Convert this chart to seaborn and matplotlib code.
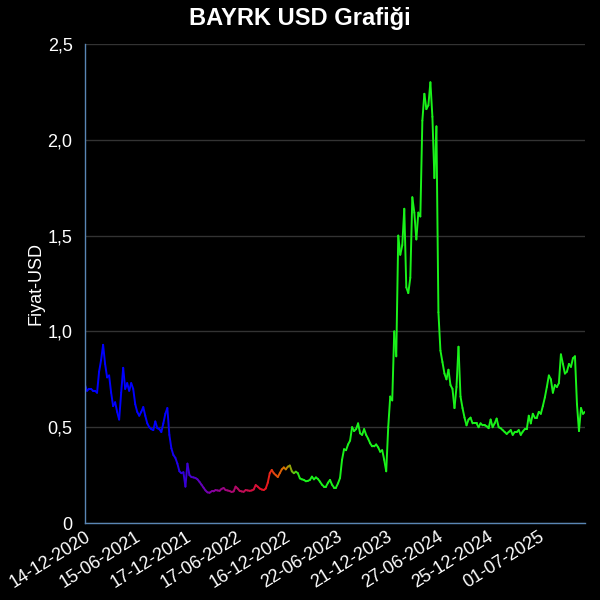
import numpy as np
import pandas as pd
import matplotlib
matplotlib.use("Agg")
import matplotlib.pyplot as plt
import seaborn as sns
from matplotlib.colors import LinearSegmentedColormap

# price readings, evenly spaced in time from first to last date
start_date = "2020-12-14"
end_date = "2025-12-18"
prices = [
    0.72, 0.69, 0.70, 0.70, 0.69, 0.69, 0.68, 0.79, 0.85, 0.93,
    0.83, 0.76, 0.77, 0.68, 0.61, 0.63, 0.58, 0.54, 0.68, 0.81,
    0.70, 0.73, 0.69, 0.73, 0.70, 0.62, 0.58, 0.56, 0.58, 0.605,
    0.56, 0.52, 0.50, 0.49, 0.485, 0.53, 0.495, 0.49, 0.475, 0.52,
    0.57, 0.60, 0.46, 0.39, 0.355, 0.34, 0.31, 0.27, 0.26, 0.265,
    0.19, 0.31, 0.25, 0.24, 0.238, 0.235, 0.228, 0.215, 0.20, 0.185,
    0.17, 0.16, 0.158, 0.165, 0.165, 0.172, 0.170, 0.168, 0.178, 0.183,
    0.172, 0.170, 0.167, 0.162, 0.165, 0.19, 0.18, 0.168, 0.165, 0.163,
    0.172, 0.170, 0.168, 0.170, 0.175, 0.198, 0.19, 0.18, 0.175, 0.172,
    0.18, 0.21, 0.26, 0.277, 0.26, 0.25, 0.24, 0.26, 0.28, 0.29,
    0.28, 0.294, 0.30, 0.27, 0.26, 0.268, 0.26, 0.233, 0.228, 0.225,
    0.218, 0.22, 0.225, 0.242, 0.228, 0.238, 0.23, 0.216, 0.20, 0.19,
    0.19, 0.21, 0.225, 0.20, 0.185, 0.185, 0.207, 0.235, 0.33, 0.385,
    0.38, 0.41, 0.43, 0.50, 0.48, 0.49, 0.52, 0.468, 0.46, 0.49,
    0.46, 0.44, 0.416, 0.40, 0.40, 0.41, 0.395, 0.372, 0.38, 0.33,
    0.27, 0.50, 0.66, 0.64, 1.00, 0.87, 1.50, 1.40, 1.45, 1.64,
    1.23, 1.20, 1.28, 1.70, 1.62, 1.48, 1.62, 1.60, 2.10, 2.24,
    2.16, 2.18, 2.30, 2.12, 1.80, 2.07, 1.10, 0.90, 0.84, 0.78,
    0.75, 0.80, 0.72, 0.70, 0.60, 0.71, 0.92, 0.66, 0.60, 0.55,
    0.51, 0.54, 0.55, 0.52, 0.52, 0.52, 0.50, 0.52, 0.51, 0.51,
    0.505, 0.495, 0.54, 0.50, 0.52, 0.545, 0.50, 0.495, 0.485, 0.475,
    0.465, 0.475, 0.485, 0.46, 0.475, 0.475, 0.485, 0.46, 0.477, 0.49,
    0.49, 0.56, 0.52, 0.57, 0.55, 0.55, 0.58, 0.57, 0.61, 0.655,
    0.71, 0.77, 0.75, 0.68, 0.72, 0.71, 0.73, 0.88, 0.83, 0.78,
    0.79, 0.83, 0.815, 0.86, 0.87, 0.62, 0.48, 0.60, 0.57, 0.58,
]

tick_dates = ["14-12-2020", "15-06-2021", "17-12-2021", "17-06-2022", "16-12-2022",
              "22-06-2023", "21-12-2023", "27-06-2024", "25-12-2024", "01-07-2025"]
y_ticks = [0, 0.5, 1.0, 1.5, 2.0, 2.5]
y_tick_labels = ["0", "0,5", "1,0", "1,5", "2,0", "2,5"]

dates = pd.date_range(start_date, end_date, periods=len(prices))

# colour fades blue -> purple -> red -> green over time
cmap = LinearSegmentedColormap.from_list("trend", [
    (0.00, (0.0, 0.0, 1.0)),
    (0.16, (0.0, 0.0, 1.0)),
    (0.25, (0.50, 0.0, 0.65)),
    (0.36, (0.92, 0.08, 0.12)),
    (0.40, (0.85, 0.45, 0.0)),
    (0.43, (0.1, 0.95, 0.1)),
    (1.00, (0.1, 0.95, 0.1)),
])

# each consecutive pair of points becomes one segment so seaborn can colour it
rows = []
for i in range(len(prices) - 1):
    rows.append({"date": dates[i], "price": prices[i], "seg": i})
    rows.append({"date": dates[i + 1], "price": prices[i + 1], "seg": i})
df = pd.DataFrame(rows)
n_seg = len(prices) - 1
palette = {i: cmap(i / (n_seg - 1)) for i in range(n_seg)}

sns.set_theme(style="dark")
plt.rcParams["font.family"] = ["Liberation Sans", "DejaVu Sans"]

fig = plt.figure(figsize=(6, 6), dpi=100, facecolor="black")
ax = fig.add_axes([0.1417, 0.1283, 0.8333, 0.7984])
ax.set_facecolor("black")

sns.lineplot(data=df, x="date", y="price", hue="seg", palette=palette,
             estimator=None, sort=False, legend=False, linewidth=1.4, ax=ax)

ax.set_ylim(0, 2.5)
ax.set_xlim(pd.Timestamp(start_date), pd.Timestamp(end_date))
ax.set_yticks(y_ticks)
ax.set_yticklabels(y_tick_labels)
tick_pos = pd.to_datetime(tick_dates, format="%d-%m-%Y")
ax.set_xticks(tick_pos)
ax.set_xticklabels(tick_dates, rotation=32, ha="right", rotation_mode="anchor")

ax.grid(axis="y", color="#333333", linewidth=1)
ax.grid(axis="x", visible=False)
ax.tick_params(axis="y", colors="white", labelsize=13, length=7, pad=2, color="#333333")
ax.tick_params(axis="x", colors="white", labelsize=13, length=0, pad=4)

for side in ["top", "right"]:
    ax.spines[side].set_visible(False)
for side in ["left", "bottom"]:
    ax.spines[side].set_visible(True)
    ax.spines[side].set_color("#5a86b4")
    ax.spines[side].set_linewidth(1)

ax.set_xlabel("")
ax.set_ylabel("Fiyat-USD", color="white", fontsize=13, labelpad=2)
fig.suptitle("BAYRK USD Grafiği", color="white", fontsize=17, fontweight="bold", y=0.988)

fig.savefig("out.png", dpi=100, facecolor="black")
